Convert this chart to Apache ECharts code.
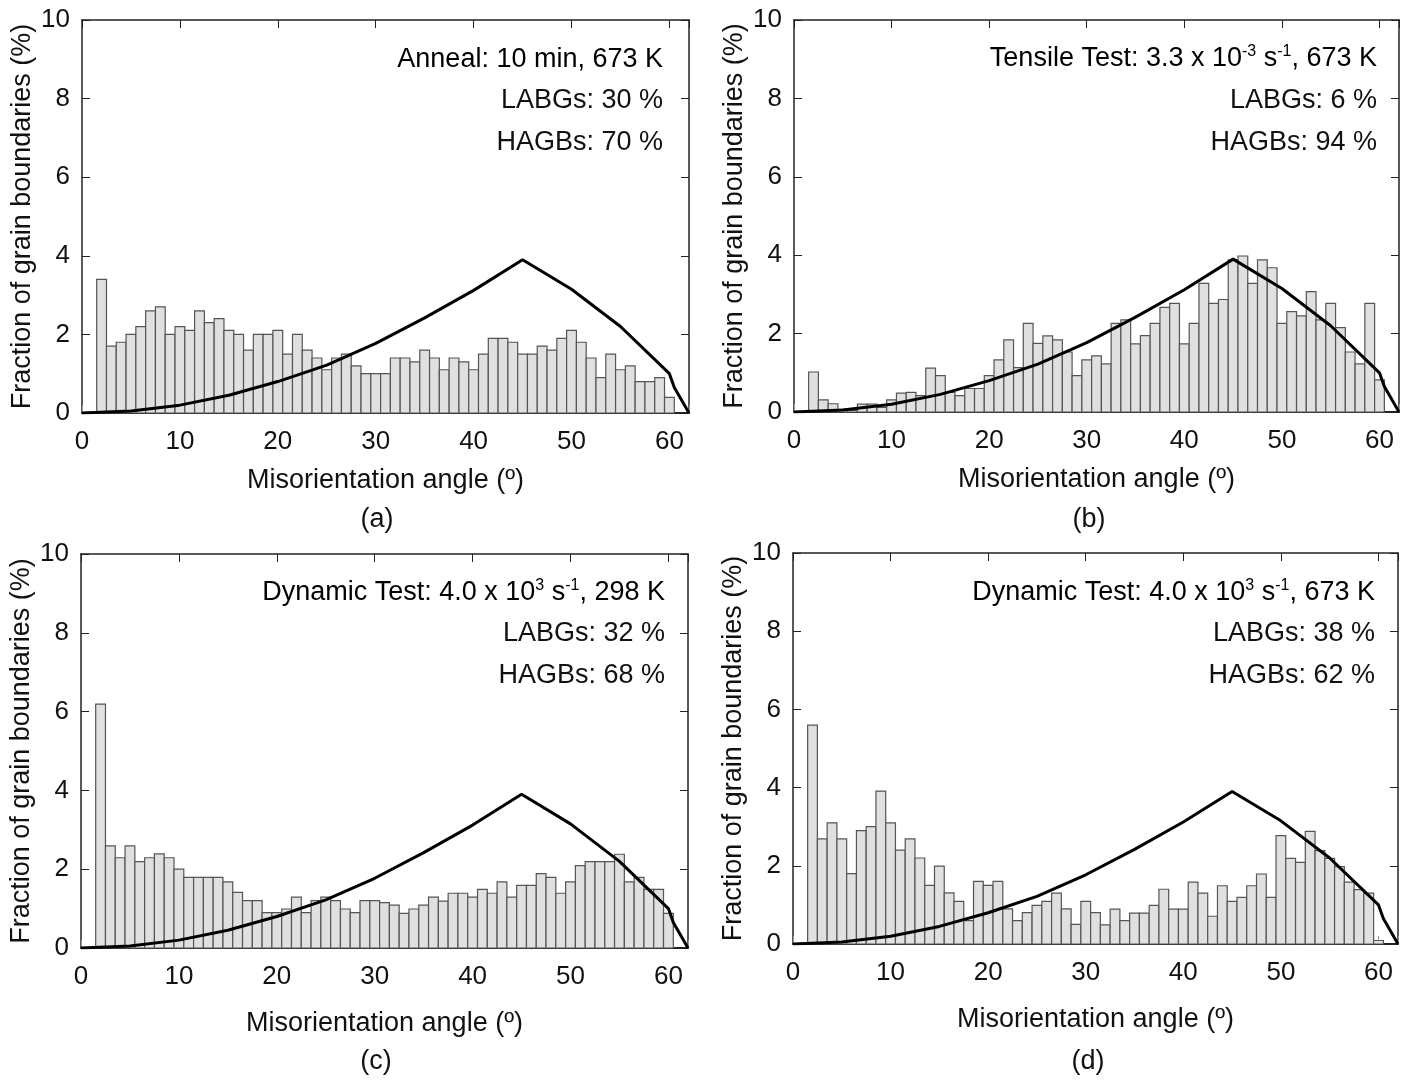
<!DOCTYPE html>
<html>
<head>
<meta charset="utf-8">
<script src="https://cdn.jsdelivr.net/npm/echarts@6/dist/echarts.min.js"></script>
<style>
html,body{margin:0;padding:0;background:#fff;}
#main{width:1413px;height:1082px;}
</style>
</head>
<body>
<div id="main"></div>
<script>
// ---------- DATA ----------
var angles = [2,3,4,5,6,7,8,9,10,11,12,13,14,15,16,17,18,19,20,21,22,23,24,25,26,27,28,29,30,31,32,33,34,35,36,37,38,39,40,41,42,43,44,45,46,47,48,49,50,51,52,53,54,55,56,57,58,59,60];

var annealValues = [3.4,1.7,1.8,2.0,2.2,2.6,2.7,2.0,2.2,2.1,2.6,2.3,2.4,2.1,2.0,1.6,2.0,2.0,2.1,1.5,2.0,1.6,1.4,1.1,1.4,1.5,1.2,1.0,1.0,1.0,1.4,1.4,1.3,1.6,1.4,1.1,1.4,1.3,1.1,1.5,1.9,1.9,1.8,1.5,1.5,1.7,1.6,1.9,2.1,1.8,1.4,0.9,1.5,1.1,1.2,0.8,0.8,0.9,0.4];

var tensileValues = [1.02,0.31,0.21,0.07,0.04,0.2,0.2,0.12,0.31,0.48,0.5,0.42,1.12,0.93,0.5,0.42,0.6,0.6,0.93,1.33,1.84,1.13,2.26,1.75,1.94,1.84,1.53,0.93,1.33,1.43,1.23,2.26,2.35,1.74,1.95,2.26,2.67,2.77,1.74,2.26,3.28,2.77,2.87,3.88,3.98,3.28,3.88,3.68,2.26,2.56,2.45,3.07,2.35,2.77,2.15,1.53,1.23,2.77,0.82];

var dyn298Values = [6.19,2.59,2.29,2.59,2.19,2.29,2.39,2.29,2.0,1.79,1.79,1.79,1.79,1.68,1.41,1.2,1.2,0.9,0.9,0.99,1.29,0.9,1.2,1.29,1.2,0.99,0.9,1.2,1.2,1.15,1.09,0.88,0.99,1.09,1.29,1.19,1.39,1.39,1.29,1.49,1.39,1.68,1.29,1.59,1.59,1.89,1.79,1.39,1.68,2.09,2.19,2.19,2.19,2.38,1.68,1.79,1.49,1.49,0.88];

var dyn673Values = [5.6,2.69,3.1,2.69,1.8,2.9,3.0,3.91,3.1,2.4,2.69,2.2,1.5,1.99,1.31,1.09,0.6,1.6,1.5,1.6,0.9,0.6,0.8,0.99,1.09,1.3,0.9,0.5,1.09,0.8,0.49,0.89,0.6,0.79,0.79,0.99,1.4,0.89,0.89,1.58,1.3,0.71,1.49,1.09,1.19,1.49,1.79,1.19,2.77,2.19,2.09,2.88,2.39,2.19,1.98,1.58,1.39,1.3,0.09];

// Random (Mackenzie) distribution curve
var mackAngles = [0,5,10,15,20,25,30,35,40,45,50,55,60,60.5,62];
var mackValues = [0,0.05,0.2,0.45,0.8,1.22,1.77,2.42,3.12,3.9,3.15,2.2,1.0,0.65,0];

var xTicks = [0,10,20,30,40,50,60];
var yTicks = [0,2,4,6,8,10];

var panelLabels = ['(a)','(b)','(c)','(d)'];
var conditionTexts = [
  '{n|Anneal: 10 min, 673 K}',
  '{n|Tensile Test: 3.3 x 10}{s|-3}{n| s}{s|-1}{n|, 673 K}',
  '{n|Dynamic Test: 4.0 x 10}{s|3}{n| s}{s|-1}{n|, 298 K}',
  '{n|Dynamic Test: 4.0 x 10}{s|3}{n| s}{s|-1}{n|, 673 K}'
];
var labgTexts = ['LABGs: 30 %','LABGs: 6 %','LABGs: 32 %','LABGs: 38 %'];
var hagbTexts = ['HAGBs: 70 %','HAGBs: 94 %','HAGBs: 68 %','HAGBs: 62 %'];

var xAxisName = 'Misorientation angle (º)';
var yAxisName = 'Fraction of grain boundaries (%)';

// ---------- LAYOUT ----------
var FONT = "'Liberation Sans', Arial, sans-serif";
var TXT = '#111';
var FS = 27;
var panelValues = [annealValues, tensileValues, dyn298Values, dyn673Values];
var grids = [
  {left:82, top:20, width:607, height:393},
  {left:794, top:20, width:605, height:392},
  {left:81, top:554, width:607, height:394},
  {left:793, top:553, width:605, height:391}
];
var xNameGaps = [54,54,62,62];
var annPos = [
  {x:663, y:[60,101,143]},
  {x:1377, y:[59,101,143]},
  {x:665, y:[593,634,676]},
  {x:1375, y:[593,634,676]}
];
var labelPos = [[377,520],[1089,520],[376,1062],[1088,1062]];

var xAxes = [], yAxes = [], series = [], graphics = [];
var frameColor = '#222';

grids.forEach(function(g, i){
  xAxes.push({
    gridIndex:i, type:'value', min:0, max:62, interval:10, position:'bottom',
    name:xAxisName, nameLocation:'middle', nameGap:xNameGaps[i],
    nameTextStyle:{fontFamily:FONT, fontSize:FS, color:TXT},
    axisLine:{show:true, onZero:false, lineStyle:{color:frameColor, width:2}},
    axisTick:{show:true, inside:true, length:8, lineStyle:{color:'#999', width:1}},
    axisLabel:{fontFamily:FONT, fontSize:26, color:TXT, margin:16,
      formatter:function(v){ return xTicks.indexOf(v) >= 0 ? String(v) : ''; }},
    splitLine:{show:false}
  });
  xAxes.push({
    gridIndex:i, type:'value', min:0, max:62, interval:10, position:'top',
    axisLine:{show:true, onZero:false, lineStyle:{color:frameColor, width:1.5}},
    axisTick:{show:true, inside:true, length:8, lineStyle:{color:frameColor, width:1}},
    axisLabel:{show:false}, splitLine:{show:false}
  });
  yAxes.push({
    gridIndex:i, type:'value', min:0, max:10, interval:2, position:'left',
    name:yAxisName, nameLocation:'middle', nameGap:46,
    nameTextStyle:{fontFamily:FONT, fontSize:FS, color:TXT},
    axisLine:{show:true, onZero:false, lineStyle:{color:frameColor, width:1.5}},
    axisTick:{show:true, inside:true, length:8, lineStyle:{color:frameColor, width:1}},
    axisLabel:{fontFamily:FONT, fontSize:26, color:TXT, margin:12,
      formatter:function(v){ return yTicks.indexOf(v) >= 0 ? String(v) : ''; }},
    splitLine:{show:false}
  });
  yAxes.push({
    gridIndex:i, type:'value', min:0, max:10, interval:2, position:'right',
    axisLine:{show:true, onZero:false, lineStyle:{color:frameColor, width:1.5}},
    axisTick:{show:true, inside:true, length:8, lineStyle:{color:frameColor, width:1}},
    axisLabel:{show:false}, splitLine:{show:false}
  });

  var data = angles.map(function(a, k){ return [a, panelValues[i][k]]; });
  series.push({
    type:'custom', xAxisIndex:2*i, yAxisIndex:2*i, z:2,
    encode:{x:0, y:1},
    data:data,
    renderItem:function(params, api){
      var x = api.value(0), y = api.value(1);
      var p0 = api.coord([x-0.5, 0]);
      var p1 = api.coord([x+0.5, y]);
      return {
        type:'rect',
        shape:{x:p0[0], y:p1[1], width:p1[0]-p0[0], height:p0[1]-p1[1]},
        style:{fill:'#e0e0e0', stroke:'#555', lineWidth:1.2}
      };
    }
  });
  series.push({
    type:'line', xAxisIndex:2*i, yAxisIndex:2*i, z:5,
    data:mackAngles.map(function(a, k){ return [a, mackValues[k]]; }),
    showSymbol:false, symbol:'none', smooth:false, clip:true,
    lineStyle:{color:'#000', width:3}
  });

  var rich = {
    n:{fontFamily:FONT, fontSize:FS, color:TXT, lineHeight:30},
    s:{fontFamily:FONT, fontSize:16, color:TXT, lineHeight:17, verticalAlign:'top'}
  };
  graphics.push({
    type:'text', x:annPos[i].x, y:annPos[i].y[0], z:10,
    style:{text:conditionTexts[i], rich:rich, align:'right', verticalAlign:'middle', textAlign:'right', textVerticalAlign:'middle'}
  });
  graphics.push({
    type:'text', x:annPos[i].x, y:annPos[i].y[1], z:10,
    style:{text:labgTexts[i], font:FS + 'px ' + FONT, fill:TXT, textAlign:'right', textVerticalAlign:'middle'}
  });
  graphics.push({
    type:'text', x:annPos[i].x, y:annPos[i].y[2], z:10,
    style:{text:hagbTexts[i], font:FS + 'px ' + FONT, fill:TXT, textAlign:'right', textVerticalAlign:'middle'}
  });
  graphics.push({
    type:'text', x:labelPos[i][0], y:labelPos[i][1], z:10,
    style:{text:panelLabels[i], font:FS + 'px ' + FONT, fill:TXT, textAlign:'center', textVerticalAlign:'middle'}
  });
});

var chart = echarts.init(document.getElementById('main'), null, {renderer:'canvas'});
chart.setOption({
  animation:false,
  backgroundColor:'#fff',
  grid:grids.map(function(g){ return Object.assign({containLabel:false}, g); }),
  xAxis:xAxes,
  yAxis:yAxes,
  series:series,
  graphic:graphics
});
</script>
</body>
</html>
